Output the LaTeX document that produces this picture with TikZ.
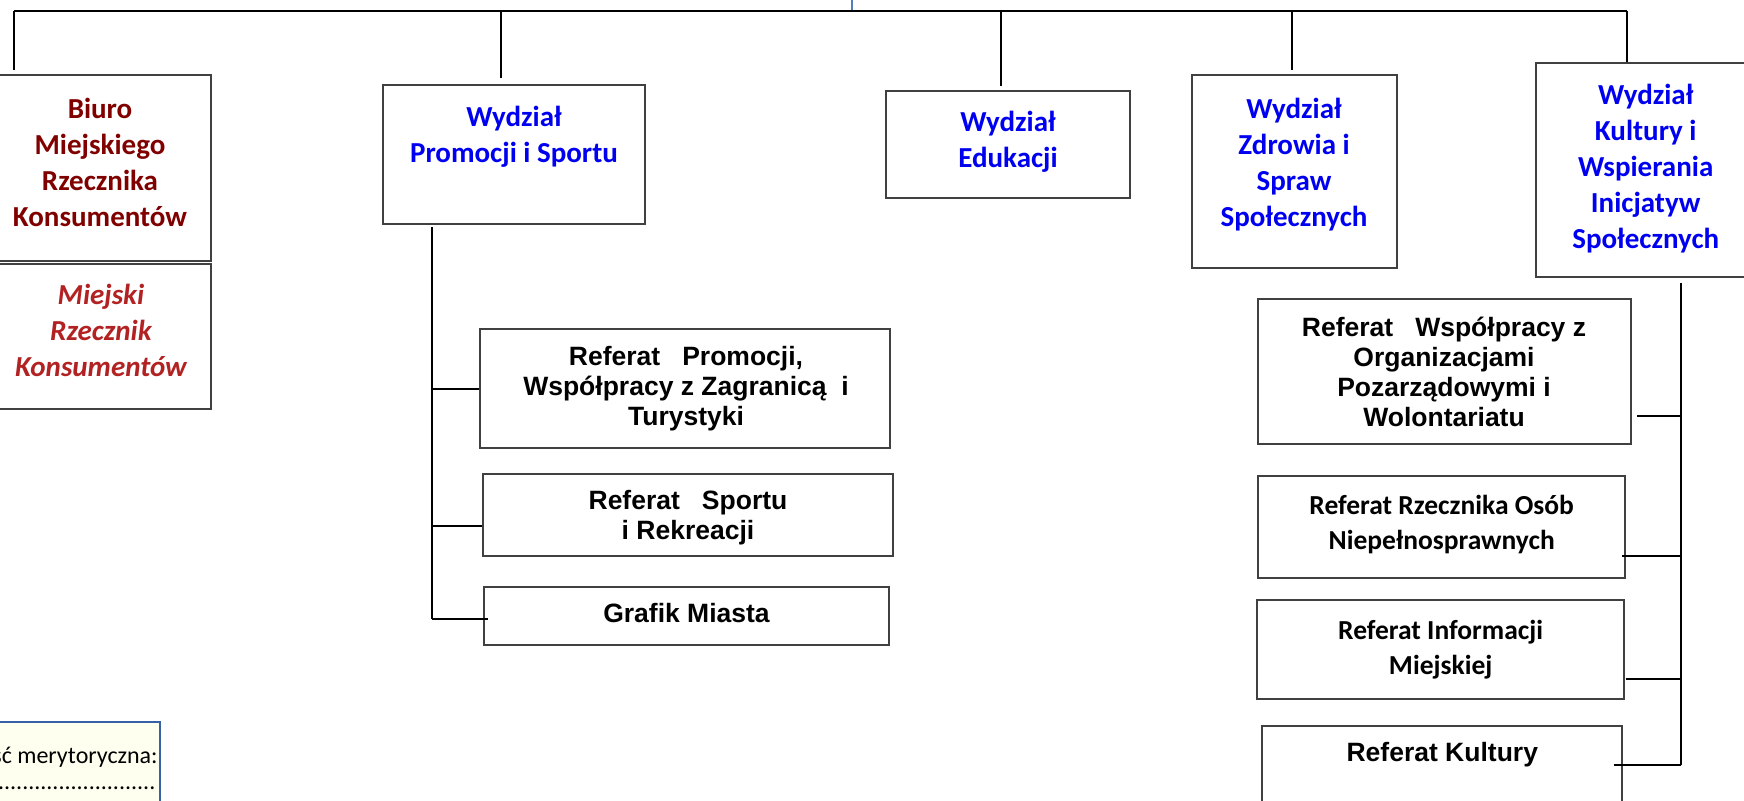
\documentclass[tikz,border=0pt]{standalone}
\usepackage{fontspec}
\setmainfont{Carlito}
\newfontfamily\arialfont{Liberation Sans}
\usetikzlibrary{fit}
\definecolor{wydzblue}{RGB}{0,0,240}
\definecolor{biurored}{RGB}{128,0,0}
\definecolor{rzecznred}{RGB}{178,34,34}
\definecolor{boxgray}{RGB}{64,64,64}
\definecolor{notefill}{RGB}{255,255,240}
\definecolor{noteblue}{RGB}{54,96,168}
\definecolor{linkblue}{RGB}{79,129,189}

\begin{document}
\begin{tikzpicture}[x=0.5pt,y=-0.5pt,
    wydztxt/.style={text=wydzblue, align=center, font=\fontsize{14.5}{18}\selectfont\bfseries},
    biurotxt/.style={text=biurored, align=center, font=\fontsize{14.5}{18}\selectfont\bfseries},
    rzectxt/.style={text=rzecznred, align=center, font=\fontsize{14.5}{18}\selectfont\bfseries\itshape},
    reftxt/.style={align=center, font=\arialfont\fontsize{13.25}{15}\selectfont\bfseries},
    refctxt/.style={align=center, font=\fontsize{13.75}{17.5}\selectfont\bfseries},
    notetxt/.style={inner sep=0pt, font=\fontsize{12}{14}\selectfont}]
  \useasboundingbox (0,0) rectangle (1744,800);
  \begin{scope}[every node/.style={draw=boxgray, line width=1pt, inner sep=0pt}]
    \node[fit={(-2,75) (211,261)}] (biuro) {};
    \node[fit={(-2,264) (211,409)}] (rzecz) {};
    \node[fit={(383,85) (645,224)}] (promo) {};
    \node[fit={(885.7,90.7) (1130,198)}] (eduk) {};
    \node[fit={(1192.4,75.3) (1396.6,268)}] (zdrow) {};
    \node[fit={(1535.7,63) (1756,277)}] (kult) {};
    \node[fit={(480,329) (890,448)}] (refpromo) {};
    \node[fit={(483,473.7) (893,556)}] (refsport) {};
    \node[fit={(483.5,586.7) (888.7,645)}] (grafik) {};
    \node[fit={(1258,299) (1631.3,444)}] (refwsp) {};
    \node[fit={(1258,476) (1625,577.7)}] (refrzecz) {};
    \node[fit={(1257.3,599.7) (1624.3,699)}] (refinfo) {};
    \node[fit={(1262.3,725.7) (1622.3,840)}] (refkult) {};
    \node[fit={(-5,722) (160,830)}, draw=noteblue, fill=notefill] (note) {};
  \end{scope}

  \node[biurotxt] (biuro-t) at (100,162.5) {Biuro\\Miejskiego\\Rzecznika\\Konsumentów};
  \node[rzectxt] (rzecz-t) at (101,330.5) {Miejski\\Rzecznik\\Konsumentów};
  \node[wydztxt] (promo-t) at (514,136.5) {Wydział\\Promocji i Sportu};
  \node[wydztxt] (eduk-t) at (1008,142) {Wydział\\Edukacji};
  \node[wydztxt] (zdrow-t) at (1294,164.5) {Wydział\\Zdrowia i\\Spraw\\Społecznych};
  \node[wydztxt] (kult-t) at (1645.7,168.3) {Wydział\\Kultury i\\Wspierania\\Inicjatyw\\Społecznych};
  \node[reftxt] (refpromo-t) at (686,388.6) {Referat\ \ \ Promocji,\\Współpracy z Zagranicą\ \ i\\Turystyki};
  \node[reftxt] (refsport-t) at (688,517.2) {Referat\ \ \ Sportu\\i Rekreacji};
  \node[reftxt] (grafik-t) at (686.5,613) {Grafik Miasta};
  \node[reftxt] (refwsp-t) at (1444,372) {Referat\ \ \ Współpracy z\\Organizacjami\\Pozarządowymi i\\Wolontariatu};
  \node[refctxt] (refrzecz-t) at (1441.7,524.5) {Referat Rzecznika Osób\\Niepełnosprawnych};
  \node[refctxt] (refinfo-t) at (1440.7,649.5) {Referat Informacji\\Miejskiej};
  \node[reftxt] (refkult-t) at (1442.3,755) {Referat Kultury};
  \node[notetxt, anchor=east] (note-t) at (158,757) {ść merytoryczna:};
  \node[notetxt, anchor=east] (note-d) at (156,788) {...........................};

  \coordinate (up) at (852,-10);
  \coordinate (b0) at (852,11);
  \coordinate (b1) at (13.8,11);
  \coordinate (b2) at (501,11);
  \coordinate (b3) at (1001,11);
  \coordinate (b4) at (1292,11);
  \coordinate (b5) at (1627,11);
  \coordinate (tp) at (432,227);
  \coordinate (g3) at (488,619);
  \coordinate (tk) at (1681,283);
  \coordinate (k1) at (1637,416);
  \coordinate (k2) at (1622,556);
  \coordinate (k3) at (1625.7,679);
  \coordinate (k4) at (1614,765);

  \path[draw=linkblue, line width=0.6pt] (up) -- (b0);
  \begin{scope}[every edge/.style={draw=black, line width=1pt}]
    \path (b1) edge (b5);
    \path (b1) edge[shorten >=2pt] (b1 |- biuro.north);
    \path (b2) edge[shorten >=3pt] (b2 |- promo.north);
    \path (b3) edge[shorten >=2pt] (b3 |- eduk.north);
    \path (b4) edge[shorten >=2pt] (b4 |- zdrow.north);
    \path (b5) edge (b5 |- kult.north);
    \path (tp) edge (tp |- g3);
    \path (tp |- g3) edge (g3);
    \path (tp |- refpromo.west) edge (refpromo.west);
    \path (tp |- 0,526) edge (refsport.west |- 0,526);
    \path (tk) edge (tk |- k4);
    \path (tk |- k4) edge (k4);
    \path (k1) edge (k1 -| tk);
    \path (k2) edge (k2 -| tk);
    \path (k3) edge (k3 -| tk);
  \end{scope}
\end{tikzpicture}
\end{document}
